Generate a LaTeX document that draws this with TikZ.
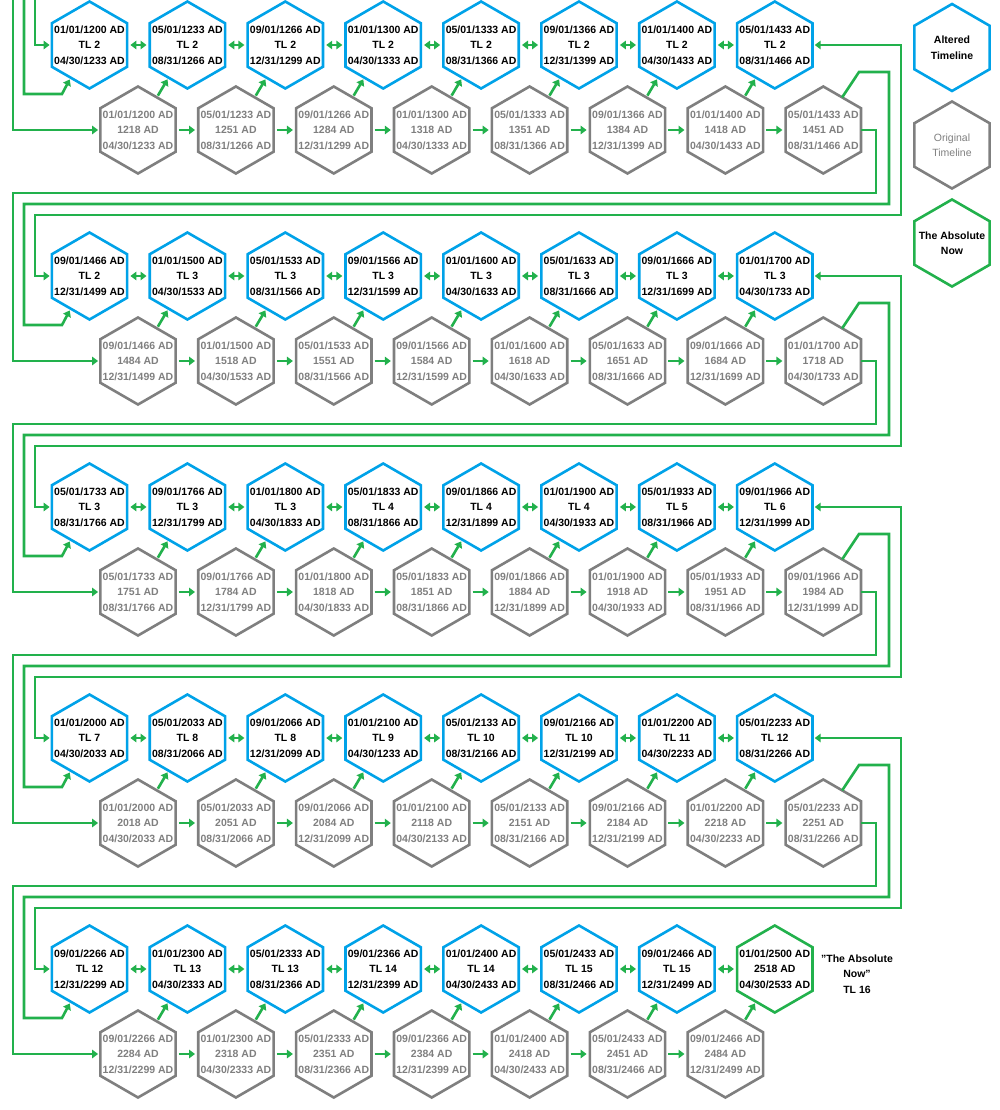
\documentclass[tikz,border=0pt]{standalone}
\usepackage{fontspec}
\setmainfont{Liberation Sans}
\usetikzlibrary{arrows.meta}
\definecolor{altblue}{HTML}{00A2E8}
\definecolor{origgrey}{HTML}{7F7F7F}
\definecolor{nowgreen}{HTML}{22B14C}
\tikzset{
  hex text/.style={rectangle, minimum width=75.4pt, minimum height=40pt, inner sep=0pt,
    align=center, font=\bfseries\fontsize{10.5}{15.5}\selectfont},
  grey text/.style={hex text, text=origgrey},
  hex line/.style={line width=2.6pt, line join=miter},
  link/.style={draw=nowgreen, line width=2.6pt, -{Triangle[length=6pt,width=8.5pt]}},
  both/.style={link, {Triangle[length=6pt,width=8.5pt]}-{Triangle[length=6pt,width=8.5pt]}},
}
% hexagon round a named node
\newcommand\hexround[2]{%
  \draw[hex line, draw=#2] ([shift={(90:43.5)}]#1.center)
    \foreach \a in {30,-30,-90,-150,150} { -- ([shift={(\a:43.5)}]#1.center) } -- cycle;}
% row, column, start, TL, end (altered), year, end (original)
\newcommand\tlpair[7]{%
  \node[hex text] (B#1-#2) at ({89.5+97.9*(#2-1)},{45+231*(#1-1)}) {#3 AD\\TL #4\\#5 AD};
  \hexround{B#1-#2}{altblue}
  \node[grey text] (G#1-#2) at ({138+97.9*(#2-1)},{130+231*(#1-1)}) {#3 AD\\#6 AD\\#7 AD};
  \hexround{G#1-#2}{origgrey}}
\begin{document}
\begin{tikzpicture}[x=1pt,y=-1pt]
  \useasboundingbox (0,0) rectangle (1000,1110);
  % row 1
  \tlpair{1}{1}{01/01/1200}{2}{04/30/1233}{1218}{04/30/1233}
  \tlpair{1}{2}{05/01/1233}{2}{08/31/1266}{1251}{08/31/1266}
  \tlpair{1}{3}{09/01/1266}{2}{12/31/1299}{1284}{12/31/1299}
  \tlpair{1}{4}{01/01/1300}{2}{04/30/1333}{1318}{04/30/1333}
  \tlpair{1}{5}{05/01/1333}{2}{08/31/1366}{1351}{08/31/1366}
  \tlpair{1}{6}{09/01/1366}{2}{12/31/1399}{1384}{12/31/1399}
  \tlpair{1}{7}{01/01/1400}{2}{04/30/1433}{1418}{04/30/1433}
  \tlpair{1}{8}{05/01/1433}{2}{08/31/1466}{1451}{08/31/1466}
  % row 2
  \tlpair{2}{1}{09/01/1466}{2}{12/31/1499}{1484}{12/31/1499}
  \tlpair{2}{2}{01/01/1500}{3}{04/30/1533}{1518}{04/30/1533}
  \tlpair{2}{3}{05/01/1533}{3}{08/31/1566}{1551}{08/31/1566}
  \tlpair{2}{4}{09/01/1566}{3}{12/31/1599}{1584}{12/31/1599}
  \tlpair{2}{5}{01/01/1600}{3}{04/30/1633}{1618}{04/30/1633}
  \tlpair{2}{6}{05/01/1633}{3}{08/31/1666}{1651}{08/31/1666}
  \tlpair{2}{7}{09/01/1666}{3}{12/31/1699}{1684}{12/31/1699}
  \tlpair{2}{8}{01/01/1700}{3}{04/30/1733}{1718}{04/30/1733}
  % row 3
  \tlpair{3}{1}{05/01/1733}{3}{08/31/1766}{1751}{08/31/1766}
  \tlpair{3}{2}{09/01/1766}{3}{12/31/1799}{1784}{12/31/1799}
  \tlpair{3}{3}{01/01/1800}{3}{04/30/1833}{1818}{04/30/1833}
  \tlpair{3}{4}{05/01/1833}{4}{08/31/1866}{1851}{08/31/1866}
  \tlpair{3}{5}{09/01/1866}{4}{12/31/1899}{1884}{12/31/1899}
  \tlpair{3}{6}{01/01/1900}{4}{04/30/1933}{1918}{04/30/1933}
  \tlpair{3}{7}{05/01/1933}{5}{08/31/1966}{1951}{08/31/1966}
  \tlpair{3}{8}{09/01/1966}{6}{12/31/1999}{1984}{12/31/1999}
  % row 4
  \tlpair{4}{1}{01/01/2000}{7}{04/30/2033}{2018}{04/30/2033}
  \tlpair{4}{2}{05/01/2033}{8}{08/31/2066}{2051}{08/31/2066}
  \tlpair{4}{3}{09/01/2066}{8}{12/31/2099}{2084}{12/31/2099}
  \tlpair{4}{4}{01/01/2100}{9}{04/30/1233}{2118}{04/30/2133}
  \tlpair{4}{5}{05/01/2133}{10}{08/31/2166}{2151}{08/31/2166}
  \tlpair{4}{6}{09/01/2166}{10}{12/31/2199}{2184}{12/31/2199}
  \tlpair{4}{7}{01/01/2200}{11}{04/30/2233}{2218}{04/30/2233}
  \tlpair{4}{8}{05/01/2233}{12}{08/31/2266}{2251}{08/31/2266}
  % row 5
  \tlpair{5}{1}{09/01/2266}{12}{12/31/2299}{2284}{12/31/2299}
  \tlpair{5}{2}{01/01/2300}{13}{04/30/2333}{2318}{04/30/2333}
  \tlpair{5}{3}{05/01/2333}{13}{08/31/2366}{2351}{08/31/2366}
  \tlpair{5}{4}{09/01/2366}{14}{12/31/2399}{2384}{12/31/2399}
  \tlpair{5}{5}{01/01/2400}{14}{04/30/2433}{2418}{04/30/2433}
  \tlpair{5}{6}{05/01/2433}{15}{08/31/2466}{2451}{08/31/2466}
  \tlpair{5}{7}{09/01/2466}{15}{12/31/2499}{2484}{12/31/2499}
  \node[hex text] (B5-8) at (774.8,969) {01/01/2500 AD\\2518 AD\\04/30/2533 AD};
  \hexround{B5-8}{nowgreen}
  \node[font=\bfseries\fontsize{10.5}{15.5}\selectfont, align=center] (nowlabel) at (857,974)
    {"The Absolute\\Now"\\TL 16};
  % legend
  \node[hex text] (key alt) at (952,47.5) {Altered\\Timeline};
  \hexround{key alt}{altblue}
  \node[grey text, font=\fontsize{10.5}{15.5}\selectfont] (key orig) at (952,145) {Original\\Timeline};
  \hexround{key orig}{origgrey}
  \node[hex text] (key now) at (952,243) {The Absolute\\Now};
  \hexround{key now}{nowgreen}
  % links inside the rows
  \foreach \r in {1,...,5}
    \foreach \i in {1,...,7} {
      \pgfmathtruncatemacro\j{\i+1}
      \draw[both, shorten <=3pt, shorten >=3pt] (B\r-\i.east) -- (B\r-\j.west);
      \draw[link, shorten <=2pt, shorten >=2pt]
        ([shift={(-60:37.7)}]G\r-\i.center) -- ([shift={(120:37.7)}]B\r-\j.center);
    }
  \foreach \r in {1,...,4}
    \foreach \i in {1,...,7} {
      \pgfmathtruncatemacro\j{\i+1}
      \draw[link, shorten <=3pt, shorten >=3pt] (G\r-\i.east) -- (G\r-\j.west);
    }
  \foreach \i in {1,...,6} {
    \pgfmathtruncatemacro\j{\i+1}
    \draw[link, shorten <=3pt, shorten >=3pt] (G5-\i.east) -- (G5-\j.west);
  }
  % lines coming in from above
  \coordinate (in grey) at (13,0);
  \coordinate (in diag) at (24,0);
  \coordinate (in blue) at (35,0);
  \draw[link, shorten >=2pt] (in grey) |- (G1-1.west);
  \draw[link, shorten >=2pt] (in diag) -- (24,94) -- (62,94) -- ([shift={(120:37.7)}]B1-1.center);
  \draw[link, shorten >=2pt] (in blue) |- (B1-1.west);
  % return lines between the rows
  \foreach \r in {1,...,4} {
    \pgfmathsetmacro\yb{45+231*(\r-1)}
    \pgfmathsetmacro\yn{45+231*\r}
    \pgfmathtruncatemacro\n{\r+1}
    \draw[link, shorten >=2pt] (G\r-8.east) -| (876,\yb+148) -- (13,\yb+148) |- (G\n-1.west);
    \draw[link, shorten >=2pt] ([shift={(-60:37.7)}]G\r-8.center) -- (859,\yb+27) -- (889,\yb+27)
      -- (889,\yb+159) -- (24,\yb+159) -- (24,\yn+49) -- (62,\yn+49)
      -- ([shift={(120:37.7)}]B\n-1.center);
    \draw[both, shorten >=2pt, shorten <=2pt] (B\r-8.east) -| (901,\yb+170) -- (35,\yb+170) |- (B\n-1.west);
  }
\end{tikzpicture}
\end{document}
